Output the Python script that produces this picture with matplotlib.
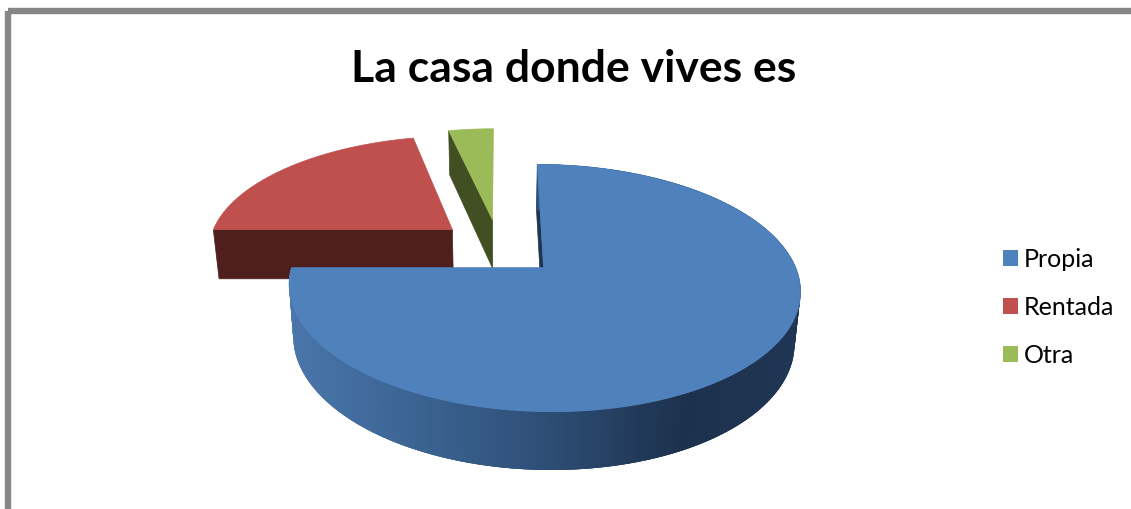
import matplotlib
matplotlib.use("Agg")
import matplotlib.pyplot as plt
import numpy as np
from matplotlib.collections import PolyCollection
from matplotlib.colors import LinearSegmentedColormap
from matplotlib.patches import Patch, Polygon, Rectangle

categorias = ["Propia", "Rentada", "Otra"]
valores = [75, 21.5, 3.5]
colores = ["#4f81bd", "#c0504d", "#9bbb59"]
oscuros = ["#1f3550", "#4e1f1d", "#414f22"]
titulo = "La casa donde vives es"

plt.rcParams["font.family"] = ["Lato", "DejaVu Sans"]

# pie 3D hecho a mano, en pixeles de la imagen
CX, CY = 499, 248
RX, RY = 245, 113.6
K = 0.16
ALTO = 50
ZS = 0.98
EXPLODE = 0.25


def proyectar(x, y, abajo=False):
    s = 1 / (1 + K * y)
    f = ZS if abajo else 1
    sx = CX + RX * x * s * f
    sy = CY - RY * y * s * f
    if abajo:
        sy = sy + ALTO * s
    return np.column_stack([sx, sy])


def cara(x, y):
    return np.vstack([proyectar(x, y), proyectar(x, y, True)[::-1]])


fig, ax = plt.subplots(figsize=(11.31, 5.10), dpi=100)
ax.set_position([0, 0, 1, 1])
ax.set_xlim(0, 1131)
ax.set_ylim(510, 0)
ax.axis("off")

# marco gris
ax.add_patch(Rectangle((8, 12), 1200, 600, fill=False, edgecolor="#868686", linewidth=4.6))

grad = LinearSegmentedColormap.from_list(
    "lado", [(0, "#4a76aa"), (0.25, "#3b6493"), (0.5, "#2f4f77"), (0.78, "#1c314d"), (1, "#1f3654")])

# angulos acumulados, sentido horario desde las 12
fin = np.cumsum(valores) / np.sum(valores) * 2 * np.pi
ini = np.concatenate([[0], fin[:-1]])

# de atras hacia adelante: Otra, Rentada, Propia
for i in [2, 1, 0]:
    medio = (ini[i] + fin[i]) / 2
    x0 = EXPLODE * np.sin(medio)
    y0 = EXPLODE * np.cos(medio)
    t = np.linspace(ini[i], fin[i], 400)
    xb = x0 + np.sin(t)
    yb = y0 + np.cos(t)

    # solo se ve la cara radial del inicio
    xr = np.array([x0, x0 + np.sin(ini[i])])
    yr = np.array([y0, y0 + np.cos(ini[i])])
    ax.add_patch(Polygon(cara(xr, yr), closed=True, facecolor=oscuros[i], edgecolor=oscuros[i], linewidth=0.5))

    arriba = proyectar(xb, yb)
    abajo = proyectar(xb, yb, True)

    # lado curvo, solo Propia lo muestra; cada tira pisa a la siguiente para que no se vean rayas
    if i == 0:
        quads = []
        cols = []
        for j in range(len(t) - 1):
            k = min(j + 3, len(t) - 1)
            quads.append(np.vstack([arriba[j:k + 1], abajo[j:k + 1][::-1]]))
            cols.append(grad(np.clip((arriba[j][0] - 288) / 512, 0, 1)))
        ax.add_collection(PolyCollection(quads, facecolors=cols, edgecolors="none", linewidths=0))

    # tapa
    tapa = np.vstack([proyectar(np.array([x0]), np.array([y0])), arriba])
    ax.add_patch(Polygon(tapa, closed=True, facecolor=colores[i], edgecolor=colores[i], linewidth=0.5))

ax.text(574, 82, titulo, fontsize=32, fontweight="bold", ha="center", va="baseline", color="black")

handles = [Patch(facecolor=c, edgecolor="none") for c in colores]
ax.legend(handles, categorias, loc="center left", bbox_to_anchor=(1003 / 1131, 1 - 308 / 510),
          frameon=False, fontsize=18, handlelength=0.6, handleheight=0.6,
          handletextpad=0.25, labelspacing=1.0, borderpad=0, borderaxespad=0)

plt.savefig("out.png", dpi=100)
